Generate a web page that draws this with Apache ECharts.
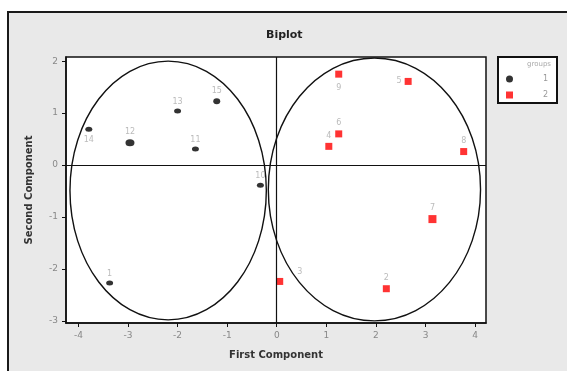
<!DOCTYPE html>
<html>
<head>
<meta charset="utf-8">
<script src="https://cdn.jsdelivr.net/npm/echarts@6/dist/echarts.min.js"></script>
<style>
  html, body { margin: 0; padding: 0; background: #fff; }
  #chart { width: 567px; height: 371px; }
</style>
</head>
<body>
<div id="chart"></div>
<script>
// data
const group1Labels = ['1', '10', '11', '12', '13', '14', '15'];
const group1X = [-3.37, -0.33, -1.64, -2.96, -2.00, -3.79, -1.21];
const group1Y = [-2.27, -0.39, 0.31, 0.43, 1.04, 0.69, 1.23];

const group2Labels = ['2', '3', '4', '5', '6', '7', '8', '9'];
const group2X = [2.21, 0.06, 1.05, 2.65, 1.25, 3.14, 3.77, 1.25];
const group2Y = [-2.38, -2.24, 0.36, 1.61, 0.60, -1.04, 0.26, 1.75];

// ellipses: centre and semi axes, in data units
const ellipseCX = [-2.19, 1.97];
const ellipseCY = [-0.49, -0.47];
const ellipseRX = [1.98, 2.14];
const ellipseRY = [2.49, 2.53];

const xTicks = [-4, -3, -2, -1, 0, 1, 2, 3, 4];
const yTicks = [-3, -2, -1, 0, 1, 2];

const font = 'DejaVu Sans';

// label placement (style only)
const labelPlace = {
  '3': { position: 'right', distance: 14, offset: [0, -10] },
  '5': { position: 'left', distance: 3 },
  '9': { position: 'bottom', distance: 6 },
  '14': { position: 'bottom', distance: 4 }
};
const bigMarker = { '12': [9, 7], '15': [7, 6], '7': [8, 8] };

function makePoints(labels, xs, ys) {
  return labels.map(function (name, i) {
    const item = { name: name, value: [xs[i], ys[i]] };
    if (labelPlace[name]) item.label = labelPlace[name];
    return item;
  });
}

const chart = echarts.init(document.getElementById('chart'));

chart.setOption({
  animation: false,
  textStyle: { fontFamily: font },
  graphic: [
    {
      type: 'rect', z: -10, silent: true,
      shape: { x: 8, y: 12, width: 620, height: 420 },
      style: { fill: '#e9e9e9', stroke: '#1a1a1a', lineWidth: 2 }
    },
    {
      type: 'text', left: 266, top: 30, silent: true,
      style: { text: 'Biplot', fill: '#222', font: 'bold 11px "DejaVu Sans"' }
    },
    {
      type: 'text', right: 16, top: 61, silent: true, z: 100,
      style: { text: 'groups', fill: '#aaa', font: '7px "DejaVu Sans"', textAlign: 'right' }
    }
  ],
  grid: {
    left: 66, top: 57, width: 420, height: 266,
    show: true, backgroundColor: '#fff', borderColor: '#111', borderWidth: 1.5
  },
  legend: {
    orient: 'vertical',
    left: 498, top: 57,
    data: [{ name: '1', icon: 'circle' }, { name: '2', icon: 'rect' }],
    itemWidth: 7, itemHeight: 7, itemGap: 8,
    padding: [18, 9, 4, 8],
    backgroundColor: '#fff', borderColor: '#111', borderWidth: 2,
    formatter: '{n|{name}}',
    textStyle: {
      color: '#999', fontSize: 8,
      rich: { n: { width: 30, align: 'right', color: '#999', fontSize: 8 } }
    },
    selectedMode: false
  },
  xAxis: {
    type: 'value', min: -4.25, max: 4.22,
    name: 'First Component', nameLocation: 'middle', nameGap: 27,
    nameTextStyle: { color: '#333', fontWeight: 'bold', fontSize: 10 },
    axisLine: { show: true, onZero: false, lineStyle: { color: '#111', width: 1.5 } },
    axisTick: { show: true, length: 4, customValues: xTicks, lineStyle: { color: '#111' } },
    axisLabel: { customValues: xTicks, color: '#888', fontSize: 9, margin: 8 },
    splitLine: { show: false }
  },
  yAxis: {
    type: 'value', min: -3.04, max: 2.08,
    name: 'Second Component', nameLocation: 'middle', nameGap: 32,
    nameTextStyle: { color: '#333', fontWeight: 'bold', fontSize: 10 },
    axisLine: { show: true, onZero: false, lineStyle: { color: '#111', width: 1.5 } },
    axisTick: { show: true, length: 4, customValues: yTicks, lineStyle: { color: '#111' } },
    axisLabel: { customValues: yTicks, color: '#888', fontSize: 9, margin: 8 },
    splitLine: { show: false }
  },
  series: [
    {
      type: 'custom',
      name: 'ellipses',
      silent: true,
      clip: false,
      z: 1,
      encode: { x: 0, y: 1 },
      data: ellipseCX.map(function (cx, i) {
        return [cx, ellipseCY[i], ellipseRX[i], ellipseRY[i]];
      }),
      renderItem: function (params, api) {
        const c = api.coord([api.value(0), api.value(1)]);
        const s = api.size([api.value(2), api.value(3)]);
        return {
          type: 'ellipse',
          shape: { cx: c[0], cy: c[1], rx: s[0], ry: s[1] },
          style: { fill: 'none', stroke: '#111', lineWidth: 1.4 }
        };
      }
    },
    {
      type: 'scatter',
      name: '1',
      symbol: 'circle',
      z: 3,
      symbolSize: function (v, p) { return bigMarker[p.name] || [7, 5]; },
      itemStyle: { color: '#000' },
      label: {
        show: true, position: 'top', distance: 3,
        formatter: '{b}', color: '#aaa', fontSize: 8
      },
      data: makePoints(group1Labels, group1X, group1Y),
      markLine: {
        silent: true,
        symbol: 'none',
        label: { show: false },
        lineStyle: { color: '#111', width: 1.2, type: 'solid' },
        data: [{ xAxis: 0 }, { yAxis: 0 }]
      }
    },
    {
      type: 'scatter',
      name: '2',
      symbol: 'rect',
      z: 3,
      symbolSize: function (v, p) { return bigMarker[p.name] || [7, 7]; },
      itemStyle: { color: '#ff0000' },
      label: {
        show: true, position: 'top', distance: 3,
        formatter: '{b}', color: '#aaa', fontSize: 8
      },
      data: makePoints(group2Labels, group2X, group2Y)
    }
  ]
});
</script>
</body>
</html>
